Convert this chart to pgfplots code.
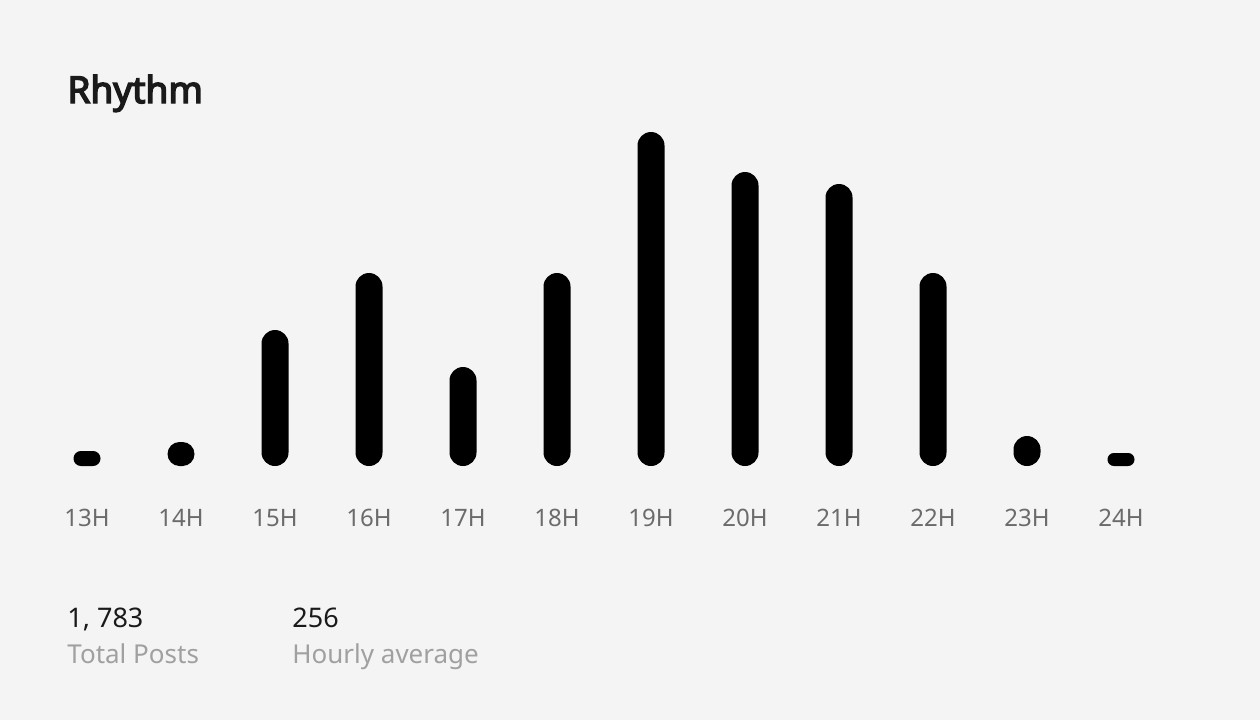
\documentclass[border=0pt]{standalone}
\usepackage{pgfplots}
\pgfplotsset{compat=1.18}
\usepackage{fontspec}
\setmainfont{Noto Sans}
\newfontfamily\titlefont{Noto Sans}[FakeBold=4]
\definecolor{bg}{HTML}{F4F4F4}
\definecolor{titlec}{HTML}{1A1A1A}
\definecolor{tickc}{HTML}{6B6B6B}
\definecolor{subc}{HTML}{A0A0A0}
\begin{document}
\begin{tikzpicture}[x=1pt,y=1pt]
\fill[bg] (0pt,0pt) rectangle (630pt,360pt);
\path[use as bounding box] (0pt,0pt) rectangle (630pt,360pt);
\node[anchor=base west, inner sep=0, text=titlec, font=\fontsize{18.5}{22}\titlefont] at (33.5pt,308.5pt) {Rhythm};
\begin{axis}[
  anchor=origin, at={(43.5pt,127pt)},
  x=47pt, y=0.5pt,
  xmin=-0.5, xmax=11.5, ymin=0, ymax=350,
  clip=false,
  axis line style={draw=none},
  major tick style={draw=none},
  ytick=\empty,
  xtick={0,...,11},
  xticklabels={13H,14H,15H,16H,17H,18H,19H,20H,21H,22H,23H,24H},
  xticklabel style={anchor=base, yshift=-30pt, text=tickc, font=\fontsize{12}{14}\selectfont},
]
\addplot[ybar, bar width=13.5pt, bar shift=0pt, fill=black, draw=none, rounded corners=6.75pt]
  coordinates {(2,136) (3,193) (4,99) (5,193) (6,334) (7,294) (8,282) (9,193) (10,30)};
\addplot[ybar, bar width=13.5pt, bar shift=0pt, fill=black, draw=none, rounded corners=6pt]
  coordinates {(1,24)};
\addplot[ybar, bar width=13.5pt, bar shift=0pt, fill=black, draw=none, rounded corners=3.7pt]
  coordinates {(0,15)};
\addplot[ybar, bar width=13.5pt, bar shift=0pt, fill=black, draw=none, rounded corners=3.2pt]
  coordinates {(11,13)};
\end{axis}
\node[anchor=base west, inner sep=0, text=titlec, font=\fontsize{13.5}{16}\selectfont] at (33.5pt,46.5pt) {1, 783};
\node[anchor=base west, inner sep=0, text=subc, font=\fontsize{13}{16}\selectfont] at (33.5pt,28.5pt) {Total Posts};
\node[anchor=base west, inner sep=0, text=titlec, font=\fontsize{13.5}{16}\selectfont] at (146pt,46.5pt) {256};
\node[anchor=base west, inner sep=0, text=subc, font=\fontsize{13}{16}\selectfont] at (146pt,28.5pt) {Hourly average};
\end{tikzpicture}
\end{document}
